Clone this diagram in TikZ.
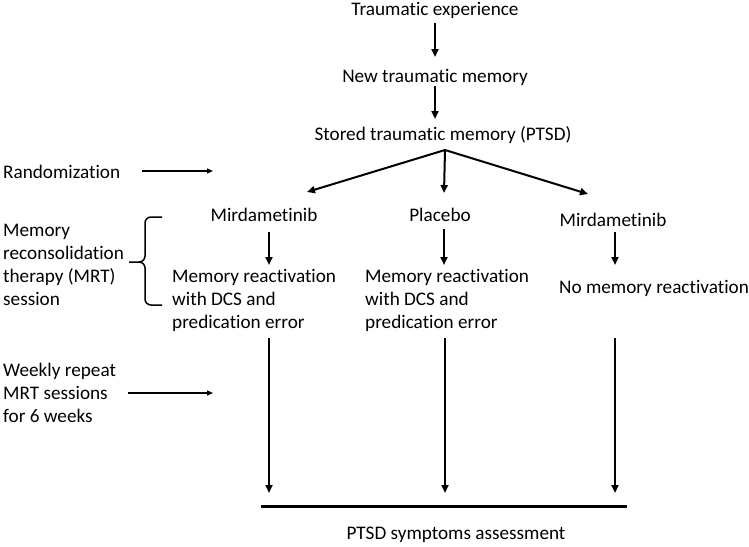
\documentclass[tikz,border=0pt]{standalone}
\usepackage{fontspec}
\setmainfont[Ligatures=NoCommon]{Carlito}
\usetikzlibrary{arrows.meta}
\tikzset{
  lbl/.style={inner sep=0pt, font=\fontsize{19.2}{23}\selectfont},
  lblL/.style={lbl, anchor=west, align=left},
  arr/.style={line width=2pt, -{Triangle[length=8pt,width=7pt]}},
  thinarr/.style={line width=1.3pt, -{Triangle[length=6pt,width=5pt]}},
  bracepart/.style={line width=1.5pt},
}
\begin{document}
\begin{tikzpicture}[x=1pt,y=-1pt]
\useasboundingbox (0,0) rectangle (749,546);
% texts
\node[lbl] (te) at (435,10) {Traumatic experience};
\node[lbl] (ntm) at (435,77) {New traumatic memory};
\node[lbl] (stm) at (443,135) {Stored traumatic memory (PTSD)};
\node[lblL] (rand) at (3,172) {Randomization};
\node[lblL] (mrt) at (3,265) {Memory\\reconsolidation\\therapy (MRT)\\session};
\node[lblL] (weekly) at (3,393) {Weekly repeat\\MRT sessions\\for 6 weeks};
\node[lbl] (m1) at (264,215) {Mirdametinib};
\node[lbl] (pl) at (440,215) {Placebo};
\node[lbl] (m2) at (613,220) {Mirdametinib};
\node[lblL] (r1) at (172,300) {Memory reactivation\\with DCS and\\predication error};
\node[lblL] (r2) at (365,300) {Memory reactivation\\with DCS and\\predication error};
\node[lblL] (r3) at (559,288) {No memory reactivation};
\node[lbl] (pa) at (456,535) {PTSD symptoms assessment};
% connector endpoints
\coordinate (teS) at (435,23);  \coordinate (ntmN) at (435,57);
\coordinate (ntmS) at (435,86); \coordinate (stmN) at (435,119);
\coordinate (apex) at (445,150);
\coordinate (m1N) at (307,192); \coordinate (plN) at (444,193); \coordinate (m2N) at (588,194);
\coordinate (randE) at (142,171); \coordinate (randT) at (213,171);
\coordinate (m1S) at (269,232); \coordinate (r1N) at (269,265);
\coordinate (plS) at (444,229); \coordinate (r2N) at (444,265);
\coordinate (m2S) at (615,232); \coordinate (r3N) at (615,265);
\coordinate (r1S) at (269,338); \coordinate (b1) at (269,493);
\coordinate (r2S) at (445,338); \coordinate (b2) at (445,493);
\coordinate (r3S) at (615,338); \coordinate (b3) at (615,493);
\coordinate (lineL) at (261,506); \coordinate (lineR) at (627,506);
\coordinate (weekE) at (128,393); \coordinate (weekT) at (213,393);
% connectors
\draw[arr] (teS) -- (ntmN);
\draw[arr] (ntmS) -- (stmN);
\draw[arr] (apex) -- (m1N);
\draw[arr] (apex) -- (plN);
\draw[arr] (apex) -- (m2N);
\draw[thinarr] (randE) -- (randT);
\draw[arr] (m1S) -- (r1N);
\draw[arr] (plS) -- (r2N);
\draw[arr] (m2S) -- (r3N);
\draw[arr] (r1S) -- (b1);
\draw[arr] (r2S) -- (b2);
\draw[arr] (r3S) -- (b3);
\draw[line width=3pt] (lineL) -- (lineR);
\draw[thinarr] (weekE) -- (weekT);
% brace
\draw[bracepart] (162,217) -- (151,217) to[out=180,in=90] (145,223) -- (145,256)
  to[out=-90,in=0] (139,262) -- (129,262);
\draw[bracepart] (139,262) to[out=0,in=90] (145,268) -- (145,299)
  to[out=-90,in=180] (151,305) -- (162,305);
\end{tikzpicture}
\end{document}
